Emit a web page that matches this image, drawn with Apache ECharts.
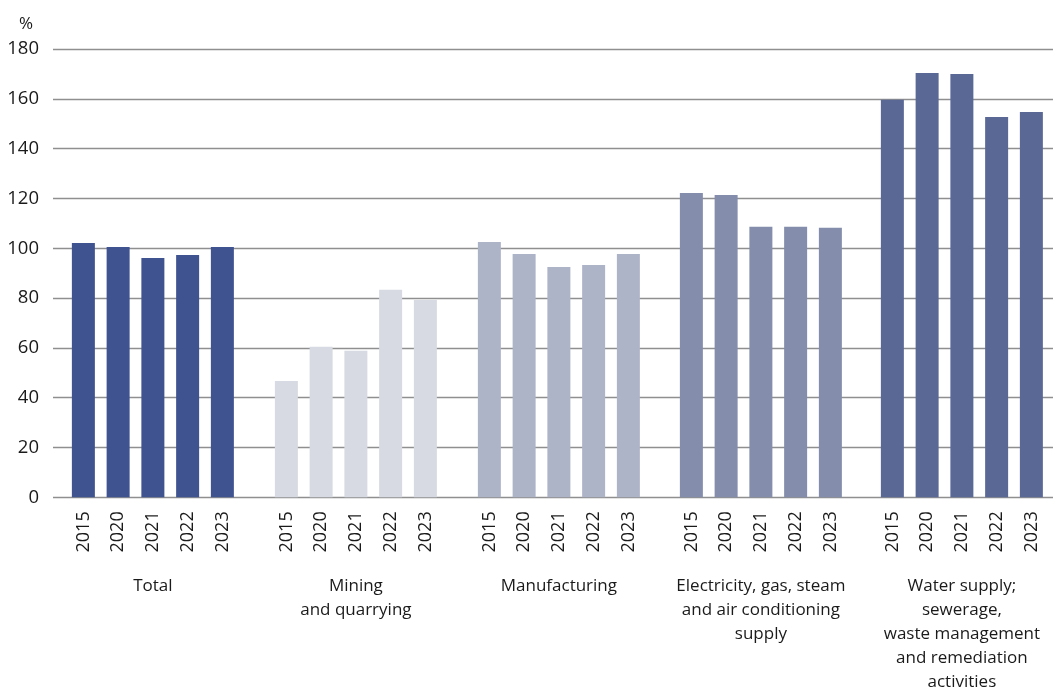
<!DOCTYPE html>
<html>
<head>
<meta charset="utf-8">
<script src="https://cdn.jsdelivr.net/npm/echarts@6/dist/echarts.min.js"></script>
<style>
  html, body { margin: 0; padding: 0; background: #fff; }
  #chart { width: 1053px; height: 689px; }
</style>
</head>
<body>
<div id="chart"></div>
<script>
// Index values by industry section and year (%)
const years = ['2015', '2020', '2021', '2022', '2023'];
const sectionNames = [
  'Total',
  'Mining\nand quarrying',
  'Manufacturing',
  'Electricity, gas, steam\nand air conditioning\nsupply',
  'Water supply;\nsewerage,\nwaste management\nand remediation\nactivities'
];
const totalValues = [102.1, 100.5, 96.1, 97.3, 100.5];
const miningValues = [46.7, 60.4, 58.8, 83.3, 79.2];
const manufacturingValues = [102.5, 97.7, 92.5, 93.3, 97.7];
const electricityValues = [122.2, 121.4, 108.6, 108.6, 108.2];
const waterValues = [159.6, 170.4, 170.0, 152.7, 154.7];
const yTicks = [0, 20, 40, 60, 80, 100, 120, 140, 160, 180];

const sectionValues = [totalValues, miningValues, manufacturingValues, electricityValues, waterValues];
const sectionColors = ['#3f5390', '#d7dae3', '#aeb4c8', '#848eac', '#5a6896'];
const sectionLefts = [66, 269, 472, 674, 875];

const font = '"Open Sans", "Liberation Sans", sans-serif';
const plotTop = 49;
const plotBottom = 191.7;
const groupWidth = 173.75;

const grids = [{ left: 53, right: 0, top: plotTop, bottom: plotBottom, outerBoundsMode: 'none', containLabel: false }];
const xAxes = [{ gridIndex: 0, type: 'value', show: false, min: 0, max: 1 }];
const yAxes = [{
  gridIndex: 0,
  type: 'value',
  min: yTicks[0],
  max: yTicks[yTicks.length - 1],
  interval: yTicks[1] - yTicks[0],
  axisLine: { show: false },
  axisTick: { show: false },
  axisLabel: { color: '#1a1a1a', fontSize: 18.5, fontFamily: font, margin: 14 },
  splitLine: { lineStyle: { color: '#8f8f8f', width: 1.4 } }
}];
const series = [];

sectionNames.forEach((name, i) => {
  const g = i + 1;
  grids.push({
    left: sectionLefts[i],
    width: groupWidth,
    top: plotTop,
    bottom: plotBottom,
    outerBoundsMode: 'none',
    containLabel: false
  });
  xAxes.push({
    gridIndex: g,
    type: 'category',
    data: years,
    axisLine: { show: false },
    axisTick: { show: false },
    axisLabel: {
      rotate: 90,
      color: '#1a1a1a',
      fontSize: 18,
      fontFamily: font,
      margin: 14
    },
    name: name,
    nameLocation: 'middle',
    nameGap: 77,
    nameTextStyle: {
      color: '#1a1a1a',
      fontSize: 17,
      fontFamily: font,
      lineHeight: 24,
      align: 'center',
      verticalAlign: 'top'
    }
  });
  yAxes.push({
    gridIndex: g,
    type: 'value',
    min: yTicks[0],
    max: yTicks[yTicks.length - 1],
    interval: yTicks[1] - yTicks[0],
    show: false,
    splitLine: { show: false }
  });
  series.push({
    type: 'bar',
    xAxisIndex: g,
    yAxisIndex: g,
    data: sectionValues[i],
    barWidth: 23,
    itemStyle: { color: sectionColors[i] },
    animation: false
  });
});

const chart = echarts.init(document.getElementById('chart'), null, { renderer: 'canvas' });
chart.setOption({
  animation: false,
  backgroundColor: '#ffffff',
  title: {
    text: '%',
    left: 14,
    top: 11,
    textStyle: { color: '#1a1a1a', fontSize: 17, fontWeight: 'normal', fontFamily: font }
  },
  grid: grids,
  xAxis: xAxes,
  yAxis: yAxes,
  series: series
});
</script>
</body>
</html>
